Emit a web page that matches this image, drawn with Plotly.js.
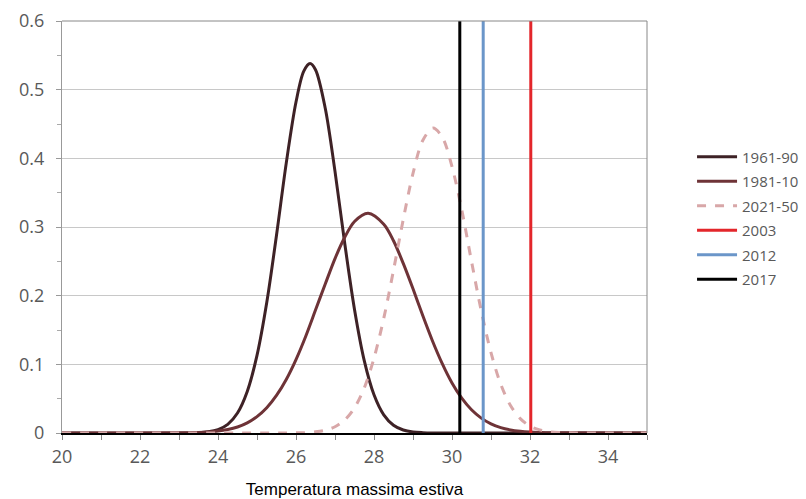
<!DOCTYPE html>
<html>
<head>
<meta charset="utf-8">
<script src="https://cdn.plot.ly/plotly-3.0.1.min.js"></script>
<style>html,body{margin:0;padding:0;background:#fff;}#chart{width:806px;height:499px;}</style>
</head>
<body>
<div id="chart"></div>
<script>
// 1961-90 distribution
const x6190 = [20, 23.5, 23.75, 24, 24.25, 24.5, 24.75, 25, 25.25, 25.5, 25.75, 26, 26.2, 26.36, 26.5, 26.75, 27, 27.25, 27.5, 27.75, 28, 28.25, 28.5, 28.75, 29, 29.25, 29.5, 35];
const y6190 = [0, 0.0005, 0.0017, 0.0049, 0.0126, 0.0291, 0.0605, 0.113, 0.190, 0.288, 0.393, 0.482, 0.527, 0.538, 0.529, 0.473, 0.381, 0.276, 0.180, 0.1055, 0.0557, 0.0265, 0.0113, 0.0044, 0.0015, 0.0005, 0.0001, 0];
// 1981-10 distribution
const x8110 = [20, 23, 23.25, 23.5, 23.75, 24, 24.25, 24.5, 24.75, 25, 25.25, 25.5, 25.75, 26, 26.25, 26.5, 26.75, 27, 27.25, 27.5, 27.85, 28.25, 28.5, 28.75, 29, 29.25, 29.5, 29.75, 30, 30.25, 30.5, 30.75, 31, 31.25, 31.5, 31.75, 32, 32.25, 32.5, 35];
const y8110 = [0, 0.0002, 0.0004, 0.0008, 0.0015, 0.0028, 0.0051, 0.0088, 0.0148, 0.0238, 0.0368, 0.0547, 0.078, 0.107, 0.141, 0.179, 0.217, 0.254, 0.285, 0.308, 0.320, 0.304, 0.280, 0.247, 0.210, 0.171, 0.134, 0.101, 0.0729, 0.0507, 0.0338, 0.0217, 0.0134, 0.0079, 0.0045, 0.0025, 0.0013, 0.0007, 0.0003, 0];
// 2021-50 distribution
const x2150 = [20, 26, 26.25, 26.5, 26.75, 27, 27.25, 27.5, 27.75, 28, 28.25, 28.5, 28.75, 29, 29.25, 29.51, 29.75, 30, 30.25, 30.5, 30.75, 31, 31.25, 31.5, 31.75, 32, 32.25, 32.5, 32.75, 33, 35];
const y2150 = [0, 0.0002, 0.0006, 0.0017, 0.004, 0.0091, 0.019, 0.0367, 0.0656, 0.109, 0.167, 0.237, 0.311, 0.378, 0.426, 0.444, 0.431, 0.388, 0.325, 0.250, 0.178, 0.117, 0.071, 0.040, 0.021, 0.010, 0.0045, 0.0018, 0.0007, 0.0002, 0];
// observed summers
const yearLabels = ["2003", "2012", "2017"];
const yearTemps = [32.02, 30.8, 30.2];
const yearColors = ["#e3262b", "#6b96c9", "#000000"];
const lineTop = [0, 0.6];

const traces = [
  {x: x6190, y: y6190, name: "1961-90", mode: "lines", line: {color: "#3e2226", width: 3, shape: "spline", smoothing: 0.9}, legendgroup: "a"},
  {x: x8110, y: y8110, name: "1981-10", mode: "lines", line: {color: "#6e3337", width: 3, shape: "spline", smoothing: 0.9}, legendgroup: "b"},
  {x: x2150, y: y2150, name: "2021-50", mode: "lines", line: {color: "#d8a7a8", width: 3, dash: "dash", shape: "spline", smoothing: 0.9}, legendgroup: "c"}
];
yearLabels.forEach((lab, i) => {
  traces.push({x: [yearTemps[i], yearTemps[i]], y: lineTop, name: lab, mode: "lines",
    line: {color: yearColors[i], width: 3}, legendgroup: "y" + i});
});

const layout = {
  width: 806, height: 499,
  margin: {l: 62, r: 159, t: 21, b: 66, autoexpand: false},
  paper_bgcolor: "#fff", plot_bgcolor: "#fff",
  font: {family: "Open Sans, DejaVu Sans, sans-serif", color: "#595959", size: 14},
  xaxis: {
    range: [20, 35], dtick: 2, tick0: 20, showgrid: false, zeroline: false,
    showline: true, linecolor: "#000", linewidth: 2, mirror: false,
    ticks: "outside", ticklen: 5, tickcolor: "#888", ticklabelstandoff: 1,
    minor: {dtick: 1, ticks: "outside", ticklen: 5, tickcolor: "#888"},
    tickfont: {size: 18, color: "#595959"},
    title: {text: "Temperatura massima estiva", font: {family: "Liberation Sans, Arial, sans-serif", size: 17, color: "#000"}, standoff: 17}
  },
  yaxis: {
    range: [0, 0.6], dtick: 0.1, tickformat: ".1~f", showgrid: true, gridcolor: "#c8c8c8", gridwidth: 1,
    zeroline: false, showline: true, linecolor: "#999", linewidth: 1,
    ticks: "outside", ticklen: 5, tickcolor: "#999", ticklabelstandoff: 8,
    minor: {dtick: 0.05, ticks: "outside", ticklen: 4, tickcolor: "#aaa", showgrid: false},
    tickfont: {size: 18, color: "#595959"}
  },
  shapes: [
    {type: "line", xref: "paper", yref: "paper", x0: 0, x1: 1, y0: 1, y1: 1, line: {color: "#888", width: 1}},
    {type: "line", xref: "paper", yref: "paper", x0: 1, x1: 1, y0: 0, y1: 1, line: {color: "#888", width: 1}}
  ],
  showlegend: true,
  legend: {x: 1.077, y: 0.71, xanchor: "left", yanchor: "top", tracegroupgap: 2,
    font: {size: 15, color: "#595959"}, bgcolor: "rgba(0,0,0,0)", itemwidth: 40}
};

Plotly.newPlot("chart", traces, layout, {displayModeBar: false, staticPlot: true});
</script>
</body>
</html>
